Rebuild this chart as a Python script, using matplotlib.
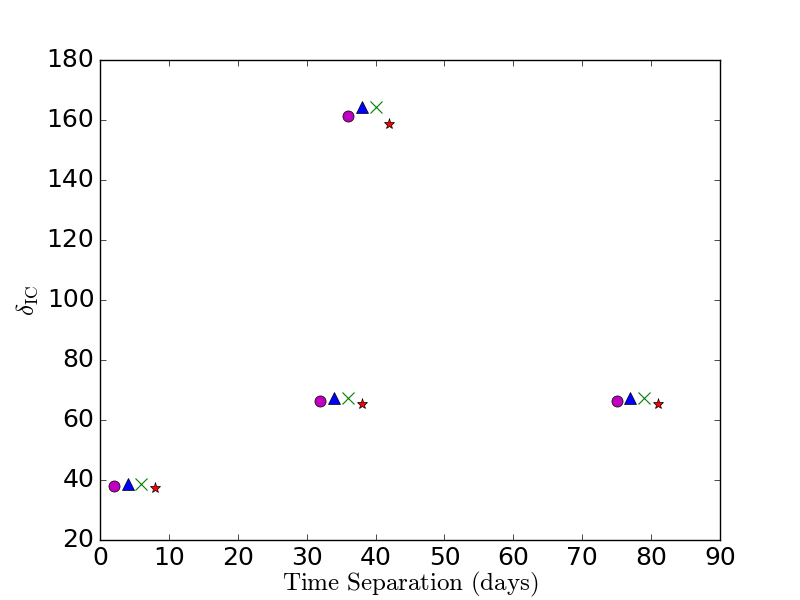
import matplotlib
matplotlib.use("Agg")
import matplotlib.pyplot as plt

plt.style.use("classic")
plt.rcParams["mathtext.fontset"] = "cm"

# four groups of measurements, one marker per method
circle_x = [2, 32, 36, 75]
circle_y = [38.0, 66.5, 161.3, 66.5]
tri_x = [4, 34, 38, 77]
tri_y = [38.7, 67.5, 164.3, 67.5]
cross_x = [6, 36, 40, 79]
cross_y = [38.7, 67.5, 164.3, 67.5]
star_x = [8, 38, 42, 81]
star_y = [37.3, 65.3, 158.7, 65.3]

fig = plt.figure(figsize=(8, 6), dpi=100)
ax = fig.add_subplot(111)

ax.plot(circle_x, circle_y, "mo", markersize=8, linestyle="none")
ax.plot(tri_x, tri_y, "b^", markersize=8, linestyle="none")
ax.plot(cross_x, cross_y, "gx", markersize=9, markeredgewidth=0.8, linestyle="none")
ax.plot(star_x, star_y, "r*", markersize=8, linestyle="none")

ax.set_xlim(0, 90)
ax.set_ylim(20, 180)
ax.tick_params(labelsize=18)
ax.set_xlabel(r"$\mathrm{Time\ Separation\ (days)}$", fontsize=18, labelpad=0)
ax.set_ylabel(r"$\delta_{\rm IC}$", fontsize=18)

fig.savefig("out.png", dpi=100)
